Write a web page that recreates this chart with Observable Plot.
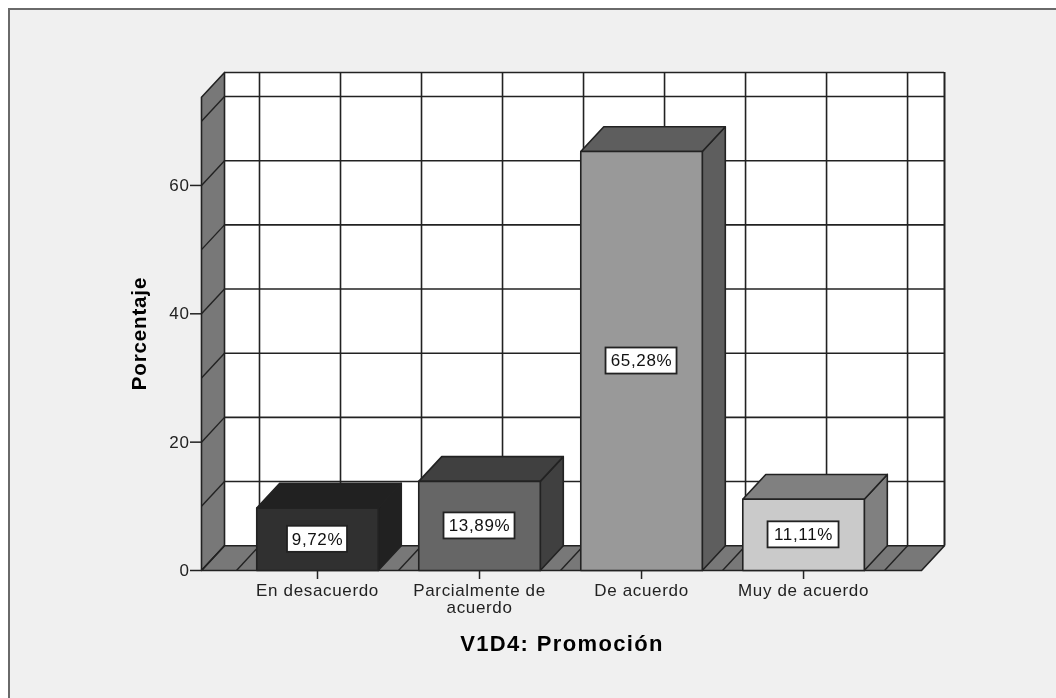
<!DOCTYPE html>
<html lang="es">
<head>
<meta charset="utf-8">
<script src="https://cdn.jsdelivr.net/npm/d3@7"></script>
<script src="https://cdn.jsdelivr.net/npm/@observablehq/plot@0.6"></script>
<style>
html,body{margin:0;padding:0;background:#fff;overflow:hidden;}
body{padding:8px 0 0 8px;}
#chart{border-left:2px solid #6a6a6a;border-top:2px solid #6a6a6a;background:#f0f0f0;width:1046px;height:688px;}
svg{display:block;filter:blur(0.35px);}
.ttl-y{letter-spacing:0.85px;}
.ttl-x{letter-spacing:1.35px;}
</style>
</head>
<body>
<div id="chart"></div>
<script>
const categories = ["En desacuerdo", "Parcialmente de\nacuerdo", "De acuerdo", "Muy de acuerdo"];
const percentages = [9.72, 13.89, 65.28, 11.11];
const percentLabels = ["9,72%", "13,89%", "65,28%", "11,11%"];
const frontFills = ["#303030", "#666666", "#999999", "#cacaca"];
const shadeFills = ["#212121", "#404040", "#5e5e5e", "#808080"];
const yTicks = [0, 20, 40, 60];
const yGrid = [0, 10, 20, 30, 40, 50, 60, 70];
const xGrid = [-0.5, 0, 0.5, 1, 1.5, 2, 2.5, 3, 3.5];

const xLeft = -0.716, xRight = 3.728, depthX = 0.142;   // floor extent and 3-D depth, category units
const yTop = 77.6, depthY = 3.86;                        // wall extent and 3-D depth, percent units
const halfBar = 0.375;
const ink = "#222";

const poly = (id, fill, pts) => pts.map(([x, y]) => ({id, fill, x, y}));

const walls = [
  ...poly("wall", "#787878", [[xLeft, 0], [xLeft, yTop - depthY], [xLeft + depthX, yTop], [xLeft + depthX, depthY]]),
  ...poly("floor", "#787878", [[xLeft, 0], [xLeft + depthX, depthY], [xRight + depthX, depthY], [xRight, 0]])
];
const bars = percentages.flatMap((v, i) => {
  const a = i - halfBar, b = i + halfBar;
  return [
    ...poly(`side${i}`, shadeFills[i], [[b, 0], [b, v], [b + depthX, v + depthY], [b + depthX, depthY]]),
    ...poly(`top${i}`, shadeFills[i], [[a, v], [a + depthX, v + depthY], [b + depthX, v + depthY], [b, v]]),
    ...poly(`front${i}`, frontFills[i], [[a, 0], [a, v], [b, v], [b, 0]])
  ];
});
const polyMark = (data) => Plot.line(data, {
  x: "x", y: "y", z: "id", fill: "fill", stroke: ink, strokeWidth: 1.6, curve: "linear-closed"
});

const labelRows = percentages.map((v, i) => {
  const half = (11 * percentLabels[i].length + 5) / 2 / 162;
  return {i, mid: v / 2, text: percentLabels[i], x1: i - half, x2: i + half, y1: v / 2 - 2.03, y2: v / 2 + 2.03};
});

const plot = Plot.plot({
  width: 1046, height: 688,
  marginLeft: 191, marginRight: 112, marginTop: 62, marginBottom: 128,
  x: {type: "linear", domain: [xLeft, xRight + depthX]},
  y: {domain: [0, yTop]},
  style: {background: "transparent", fontFamily: "'Liberation Sans', Arial, sans-serif", color: ink, letterSpacing: "0.65px"},
  marks: [
    Plot.rect([0], {x1: xLeft + depthX, x2: xRight + depthX, y1: depthY, y2: yTop, fill: "#fff"}),
    Plot.ruleY(yGrid, {y: v => v + depthY, x1: xLeft + depthX, x2: xRight + depthX, stroke: ink, strokeWidth: 1.6}),
    Plot.ruleX(xGrid, {x: v => v + depthX, y1: depthY, y2: yTop, stroke: ink, strokeWidth: 1.6}),
    Plot.ruleY([yTop], {x1: xLeft + depthX, x2: xRight + depthX, stroke: ink, strokeWidth: 1.6}),
    Plot.ruleX([xRight + depthX], {y1: depthY, y2: yTop, stroke: ink, strokeWidth: 2}),
    polyMark(walls),
    Plot.link(yGrid, {x1: xLeft, y1: v => v, x2: xLeft + depthX, y2: v => v + depthY, stroke: ink, strokeWidth: 1.4}),
    Plot.link(xGrid, {x1: v => v, y1: 0, x2: v => v + depthX, y2: depthY, stroke: ink, strokeWidth: 1.4}),
    polyMark(bars),
    Plot.rect(labelRows, {x1: "x1", x2: "x2", y1: "y1", y2: "y2", fill: "#fff", stroke: ink, strokeWidth: 1.8}),
    Plot.text(labelRows, {x: "i", y: "mid", text: "text", fontSize: 17, fill: "#111"}),
    Plot.axisY({ticks: yTicks, tickSize: 11, tickPadding: 1, fontSize: 17, label: null, stroke: ink, strokeWidth: 1.5}),
    Plot.axisX({ticks: [0, 1, 2, 3], tickFormat: i => categories[i], tickSize: 9, tickPadding: 4,
      fontSize: 17, lineHeight: 1, label: null, stroke: ink, strokeWidth: 1.5}),
    Plot.text(["Porcentaje"], {frameAnchor: "left", textAnchor: "middle", rotate: -90, dx: -62, dy: 12, fontSize: 20.5, fontWeight: "bold", fill: "#000", className: "ttl-y"}),
    Plot.text(["V1D4: Promoción"], {frameAnchor: "bottom", dx: -11, dy: 80, fontSize: 22, fontWeight: "bold", fill: "#000", className: "ttl-x"})
  ]
});
document.getElementById("chart").append(plot);
</script>
</body>
</html>
